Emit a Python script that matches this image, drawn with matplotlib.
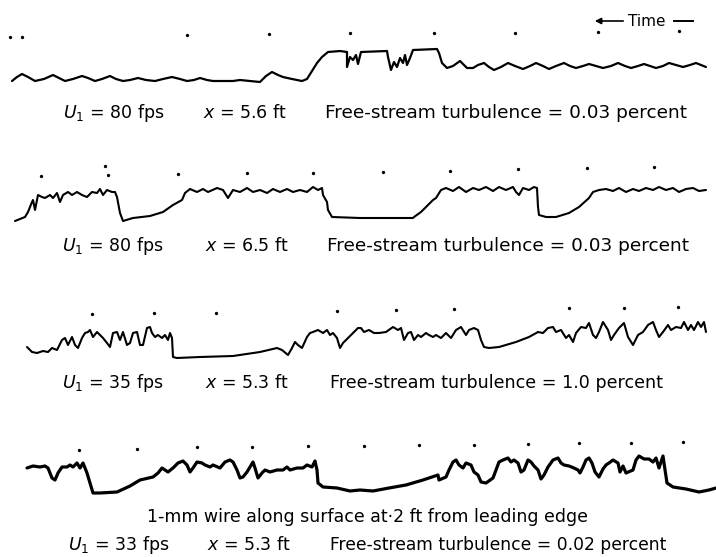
import matplotlib
matplotlib.use("Agg")
import matplotlib.pyplot as plt

plt.rcParams["font.family"] = ["DejaVu Sans"]
plt.rcParams["mathtext.fontset"] = "dejavusans"

# hot-wire traces: time (left -> right on the record) and signal height
t1 = [12, 17, 22, 28, 35, 44, 53, 59, 65, 73, 82, 88, 95, 102, 110, 116, 123, 130, 138, 146,
      155, 163, 172, 180, 187, 194, 200, 207, 213, 223, 233, 240, 250, 260, 266, 272, 278, 283, 292, 302,
      307, 312, 317, 322, 328, 340, 347, 347, 350, 353, 356, 358, 361, 387, 388, 391, 394, 397, 400, 403,
      405, 407, 410, 413, 437, 439, 442, 447, 453, 460, 467, 473, 478, 484, 489, 494, 501, 508, 515, 523,
      530, 536, 543, 549, 556, 564, 570, 576, 583, 589, 596, 603, 611, 618, 625, 631, 638, 644, 650, 656,
      663, 669, 676, 683, 690, 696, 701, 706]
s1 = [4, 8, 11, 8, 4, 6, 10, 7, 4, 6, 9, 7, 4, 6, 9, 6, 4, 5, 7, 5,
      4, 6, 8, 6, 4, 5, 7, 5, 4, 4, 4, 5, 4, 3, 9, 13, 10, 8, 6, 4,
      6, 14, 22, 28, 33, 34, 33, 18, 28, 25, 30, 21, 33, 34, 28, 15, 23, 18, 27, 22,
      30, 20, 27, 35, 36, 32, 22, 17, 19, 24, 17, 17, 20, 22, 18, 15, 18, 22, 19, 16,
      19, 22, 19, 16, 19, 22, 19, 17, 19, 21, 19, 17, 19, 22, 19, 17, 19, 21, 19, 17,
      19, 22, 20, 18, 20, 22, 20, 18]

t2 = [15, 25, 28, 32, 33, 35, 38, 42, 45, 50, 53, 57, 60, 63, 68, 72, 77, 82, 87, 92,
      97, 100, 103, 107, 112, 115, 117, 120, 123, 133, 150, 163, 173, 182, 185, 190, 197, 203, 208, 217,
      223, 228, 233, 240, 247, 253, 260, 267, 273, 280, 287, 293, 300, 307, 313, 318, 322, 323, 327, 328,
      332, 360, 413, 414, 421, 428, 433, 436, 441, 446, 453, 459, 466, 473, 479, 486, 493, 499, 506, 513,
      516, 519, 523, 529, 534, 537, 538, 539, 546, 556, 569, 579, 589, 593, 599, 606, 613, 619, 626, 633,
      639, 646, 653, 659, 666, 673, 679, 686, 693, 699, 706]
s2 = [4, 8, 13, 23, 25, 15, 30, 28, 27, 30, 27, 32, 23, 30, 33, 30, 33, 30, 28, 33,
      32, 36, 30, 35, 33, 33, 28, 12, 4, 7, 9, 13, 20, 25, 32, 36, 33, 36, 33, 37,
      35, 27, 35, 33, 37, 33, 35, 32, 36, 33, 36, 33, 35, 33, 38, 35, 37, 30, 23, 15,
      8, 7, 7, 8, 13, 20, 25, 27, 35, 37, 34, 38, 33, 37, 35, 38, 34, 38, 35, 38,
      33, 30, 37, 35, 38, 37, 18, 10, 8, 8, 12, 18, 27, 33, 35, 36, 34, 37, 33, 36,
      34, 37, 35, 38, 35, 37, 33, 36, 37, 34, 35]

t3 = [27, 32, 37, 43, 48, 52, 57, 62, 65, 68, 72, 75, 78, 82, 85, 88, 90, 93, 97, 100,
      103, 107, 110, 113, 117, 120, 123, 127, 130, 133, 137, 140, 143, 147, 150, 152, 155, 158, 162, 165,
      168, 170, 172, 173, 177, 200, 233, 260, 277, 282, 288, 292, 295, 298, 302, 307, 310, 313, 318, 323,
      327, 330, 333, 337, 340, 343, 348, 353, 358, 361, 364, 369, 374, 379, 386, 393, 398, 401, 404, 408,
      411, 414, 418, 421, 426, 429, 433, 436, 441, 446, 451, 456, 461, 466, 469, 474, 478, 481, 484, 489,
      499, 516, 529, 538, 543, 548, 553, 556, 561, 566, 569, 573, 576, 581, 586, 589, 593, 596, 599, 603,
      608, 611, 614, 619, 624, 628, 633, 638, 643, 648, 653, 656, 659, 663, 668, 671, 676, 681, 684, 688,
      691, 694, 698, 701, 704, 706]
s3 = [13, 8, 7, 9, 8, 12, 10, 20, 22, 15, 23, 15, 12, 22, 27, 28, 30, 23, 28, 25,
      22, 17, 13, 27, 28, 20, 28, 15, 17, 27, 28, 15, 15, 32, 33, 27, 23, 25, 22, 25,
      20, 27, 22, 3, 2, 3, 4, 8, 12, 10, 5, 12, 18, 15, 12, 23, 27, 28, 30, 27,
      30, 25, 27, 22, 12, 17, 22, 27, 32, 32, 28, 30, 27, 27, 28, 33, 30, 32, 20, 27,
      28, 20, 25, 23, 27, 25, 23, 25, 22, 27, 22, 30, 33, 25, 30, 32, 30, 20, 13, 12,
      13, 18, 23, 28, 27, 32, 33, 28, 30, 22, 25, 18, 27, 33, 32, 37, 25, 22, 28, 38,
      30, 20, 25, 32, 37, 23, 15, 25, 28, 35, 38, 30, 23, 28, 35, 30, 33, 32, 38, 30,
      35, 30, 38, 33, 38, 28]

t4 = [27, 33, 40, 45, 48, 52, 55, 58, 62, 67, 70, 73, 77, 80, 83, 85, 87, 90, 93, 100,
      117, 130, 140, 153, 158, 162, 165, 168, 173, 178, 183, 187, 190, 193, 197, 202, 205, 210, 213, 220,
      225, 230, 233, 237, 240, 243, 247, 250, 253, 255, 258, 262, 265, 270, 277, 283, 287, 290, 297, 303,
      307, 312, 315, 317, 318, 323, 337, 350, 360, 373, 389, 406, 423, 438, 439, 446, 449, 453, 456, 459,
      463, 466, 471, 474, 478, 481, 486, 493, 496, 499, 503, 508, 511, 514, 518, 521, 524, 528, 531, 534,
      538, 541, 544, 548, 553, 558, 561, 564, 569, 574, 578, 580, 583, 586, 589, 592, 595, 599, 603, 606,
      609, 613, 618, 620, 623, 626, 633, 636, 639, 644, 649, 653, 656, 659, 663, 664, 667, 673, 686, 699,
      709, 716]
s4 = [29, 31, 30, 31, 29, 19, 17, 24, 30, 30, 32, 30, 34, 29, 34, 29, 24, 14, 4, 4,
      5, 11, 17, 20, 24, 29, 27, 25, 29, 34, 36, 32, 25, 29, 35, 34, 32, 30, 32, 29,
      35, 37, 35, 27, 19, 20, 25, 30, 35, 29, 19, 24, 27, 25, 27, 27, 30, 27, 29, 29,
      32, 30, 36, 27, 14, 10, 9, 6, 7, 6, 9, 12, 17, 22, 17, 20, 27, 35, 37, 32,
      29, 34, 32, 25, 22, 15, 14, 19, 27, 35, 37, 39, 35, 37, 34, 25, 27, 37, 35, 31,
      27, 18, 22, 30, 37, 39, 34, 32, 31, 29, 27, 24, 30, 37, 39, 34, 25, 20, 28, 32,
      34, 37, 34, 25, 31, 24, 27, 37, 41, 38, 38, 35, 39, 29, 41, 34, 14, 10, 8, 5,
      7, 9]

# timing marks above each trace
dots1_t = [10, 22, 187, 269, 350, 434, 515, 598, 679]
dots1_h = [48, 48, 50, 51, 52, 52, 52, 53, 54]
dots2_t = [41, 105, 108, 178, 247, 313, 383, 450, 518, 587, 654]
dots2_h = [49, 59, 50, 51, 52, 52, 53, 54, 56, 57, 58]
dots3_t = [92, 154, 216, 337, 396, 454, 569, 624, 678]
dots3_h = [46, 47, 47, 49, 50, 51, 52, 52, 53]
dots4_t = [79, 137, 197, 252, 308, 364, 419, 474, 528, 579, 631, 683]
dots4_h = [47, 48, 50, 50, 51, 51, 52, 52, 53, 54, 54, 55]

speeds = ["80", "80", "35", "33"]
stations = ["5.6", "6.5", "5.3", "5.3"]
turbulence = ["0.03", "0.03", "1.0", "0.02"]

traces = [(t1, s1), (t2, s2), (t3, s3), (t4, s4)]
dots = [(dots1_t, dots1_h), (dots2_t, dots2_h), (dots3_t, dots3_h), (dots4_t, dots4_h)]
base_y = [85, 225, 360, 497]
line_w = [1.6, 1.5, 1.5, 2.3]
label_y = [113, 246, 383, 545]
label_x = [(63, 203, 325), (62, 205, 327), (62, 205, 330), (68, 207, 330)]
fs = 12.5
fs_free = [13.3, 13.3, 12.6, 12.3]

fig = plt.figure(figsize=(7.16, 5.57), dpi=100)
ax = fig.add_axes([0, 0, 1, 1])
ax.set_xlim(0, 716)
ax.set_ylim(557, 0)
ax.axis("off")

for i in range(4):
    t, s = traces[i]
    ax.plot(t, [base_y[i] - v for v in s], color="black", lw=line_w[i],
            solid_joinstyle="round", solid_capstyle="round")
    dt, dh = dots[i]
    ax.plot(dt, [base_y[i] - v for v in dh], "o", color="black", ms=2.4, mec="none")
    xa, xb, xc = label_x[i]
    ax.text(xa, label_y[i], rf"$U_1$ = {speeds[i]} fps", fontsize=fs, va="center")
    ax.text(xb, label_y[i], rf"$x$ = {stations[i]} ft", fontsize=fs, va="center")
    ax.text(xc, label_y[i], f"Free-stream turbulence = {turbulence[i]} percent",
            fontsize=fs_free[i], va="center")

ax.text(147, 517, "1-mm wire along surface at\u00b72 ft from leading edge",
        fontsize=fs, va="center")

# time direction marker
ax.annotate("", xy=(592, 21), xytext=(626, 21),
            arrowprops=dict(arrowstyle="-|>", color="black", lw=1.2, mutation_scale=9))
ax.text(628, 21, "Time", fontsize=11, va="center")
ax.plot([674, 693], [21, 21], color="black", lw=1.4)

fig.savefig("out.png", dpi=100)
